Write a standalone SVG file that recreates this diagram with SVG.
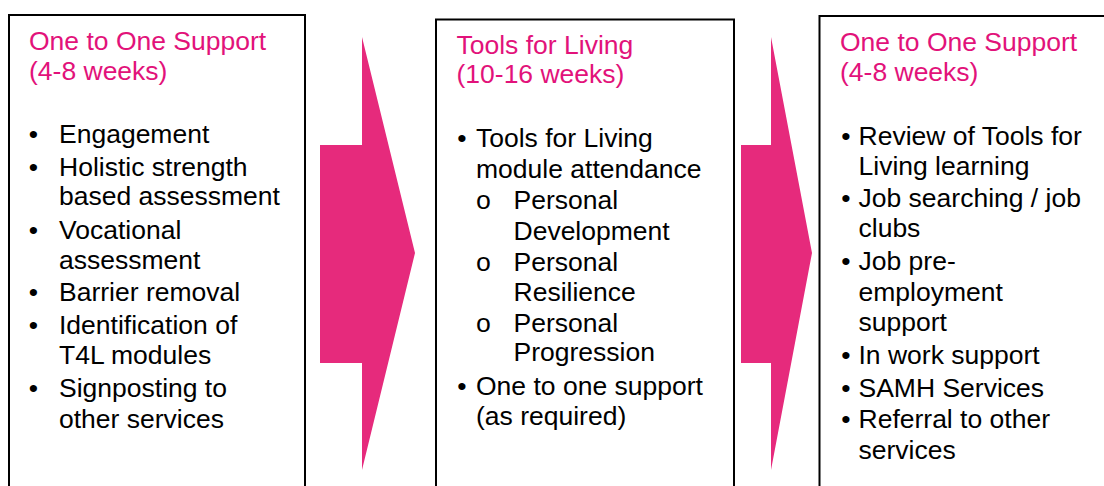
<svg xmlns="http://www.w3.org/2000/svg" width="1104" height="486" viewBox="0 0 1104 486">
  <style>
    .box { fill: #ffffff; stroke: #000000; stroke-width: 2; }
    .arrow { fill: #E62A7C; stroke: none; }
    text { font-family: "Liberation Sans", Arial, sans-serif; font-size: 26.5px; fill: #000000; }
    .title { fill: #E2127A; }
    .dot { text-anchor: middle; }
    .ring { font-family: "Liberation Mono", "Courier New", monospace; text-anchor: middle; }
  </style>
  <rect x="0" y="0" width="1104" height="486" fill="#ffffff"/>

  <!-- block arrows between the stages -->
  <g id="connectors">
    <polygon class="arrow" points="320,145 362,145 362,37 415,253 362,470 362,363 320,363"/>
    <polygon class="arrow" points="741,145 771,145 771,37 812,253 771,470 771,363 741,363"/>
  </g>

  <!-- stage 1 -->
  <g id="stage-one-to-one">
    <rect class="box" x="9" y="15" width="296" height="500"/>
    <text class="title" x="29" y="49.5">One to One Support</text>
    <text class="title" x="29" y="80">(4-8 weeks)</text>
    <text class="dot" x="33.5" y="143">•</text>
    <text x="59" y="143">Engagement</text>
    <text class="dot" x="33.5" y="175.5">•</text>
    <text x="59" y="175.5">Holistic strength</text>
    <text x="59" y="205">based assessment</text>
    <text class="dot" x="33.5" y="238.5">•</text>
    <text x="59" y="238.5">Vocational</text>
    <text x="59" y="268.5">assessment</text>
    <text class="dot" x="33.5" y="301">•</text>
    <text x="59" y="301">Barrier removal</text>
    <text class="dot" x="33.5" y="333.5">•</text>
    <text x="59" y="333.5">Identification of</text>
    <text x="59" y="364">T4L modules</text>
    <text class="dot" x="33.5" y="396.5">•</text>
    <text x="59" y="396.5">Signposting to</text>
    <text x="59" y="427.5">other services</text>
  </g>

  <!-- stage 2 -->
  <g id="stage-tools-for-living">
    <rect class="box" x="436" y="19.5" width="298" height="500"/>
    <text class="title" x="456.5" y="54">Tools for Living</text>
    <text class="title" x="456.5" y="83">(10-16 weeks)</text>
    <text class="dot" x="462" y="147">•</text>
    <text x="476" y="147">Tools for Living</text>
    <text x="476" y="177.5">module attendance</text>
    <text class="ring" x="483.5" y="208.5">o</text>
    <text x="513.5" y="208.5">Personal</text>
    <text x="513.5" y="239.5">Development</text>
    <text class="ring" x="483.5" y="270.5">o</text>
    <text x="513.5" y="270.5">Personal</text>
    <text x="513.5" y="300.5">Resilience</text>
    <text class="ring" x="483.5" y="331.5">o</text>
    <text x="513.5" y="331.5">Personal</text>
    <text x="513.5" y="361">Progression</text>
    <text class="dot" x="462" y="395">•</text>
    <text x="476" y="395">One to one support</text>
    <text x="476" y="424.5">(as required)</text>
  </g>

  <!-- stage 3 -->
  <g id="stage-one-to-one-follow-up">
    <rect class="box" x="819.5" y="16" width="300" height="500"/>
    <text class="title" x="840" y="50.5">One to One Support</text>
    <text class="title" x="840" y="80.5">(4-8 weeks)</text>
    <text class="dot" x="846" y="145">•</text>
    <text x="858.5" y="145">Review of Tools for</text>
    <text x="858.5" y="175">Living learning</text>
    <text class="dot" x="846" y="206.5">•</text>
    <text x="858.5" y="206.5">Job searching / job</text>
    <text x="858.5" y="237">clubs</text>
    <text class="dot" x="846" y="270">•</text>
    <text x="858.5" y="270">Job pre-</text>
    <text x="858.5" y="300.5">employment</text>
    <text x="858.5" y="330.5">support</text>
    <text class="dot" x="846" y="364">•</text>
    <text x="858.5" y="364">In work support</text>
    <text class="dot" x="846" y="396.5">•</text>
    <text x="858.5" y="396.5">SAMH Services</text>
    <text class="dot" x="846" y="428">•</text>
    <text x="858.5" y="428">Referral to other</text>
    <text x="858.5" y="459">services</text>
  </g>
</svg>
